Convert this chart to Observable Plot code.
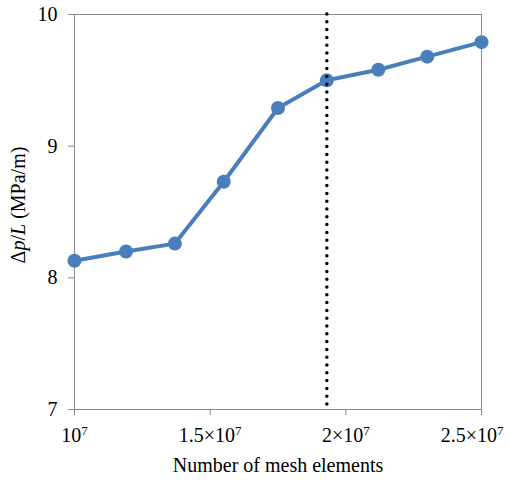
<!DOCTYPE html>
<html><head><meta charset="utf-8">
<script src="https://cdn.jsdelivr.net/npm/d3@7"></script>
<script src="https://cdn.jsdelivr.net/npm/@observablehq/plot@0.6"></script>
<style>
body{margin:0;background:#fff}
#chart svg text{font-family:'Liberation Serif','Times New Roman',serif;font-size:20px}
#chart svg text tspan.sup{font-size:13px}
</style>
</head><body><div id="chart"></div>
<script>
// Mesh-convergence study: pressure gradient vs number of mesh elements
const meshElements = [1.0e7, 1.19e7, 1.37e7, 1.55e7, 1.75e7, 1.93e7, 2.12e7, 2.30e7, 2.50e7];
const pressureGradient = [8.13, 8.20, 8.26, 8.73, 9.29, 9.50, 9.58, 9.68, 9.79];
const selectedMesh = 1.93e7;
const xTicks = [1e7, 1.5e7, 2e7, 2.5e7];
const xTickBases = ["10", "1.5×10", "2×10", "2.5×10"];
const xTickExponent = "7";
const yTicks = [7, 8, 9, 10];
const yTickLabels = ["7", "8", "9", "10"];

const data = meshElements.map((n, i) => ({n, dp: pressureGradient[i]}));
const blue = "#4a7ebb";
const gray = "#8a8a8a";
const serif = "'Liberation Serif', 'Times New Roman', serif";

const chart = Plot.plot({
  width: 510,
  height: 480,
  marginLeft: 74,
  marginRight: 29,
  marginTop: 14,
  marginBottom: 71,
  style: {fontFamily: serif, fontSize: "20px", color: "#000", background: "#fff"},
  x: {domain: [1e7, 2.5e7]},
  y: {domain: [7, 10]},
  marks: [
    Plot.frame({stroke: gray}),
    Plot.axisX({ticks: xTicks, tickFormat: d => xTickBases[xTicks.indexOf(d)], tickSize: 6, tickPadding: 12, stroke: gray, label: null, fill: "#000", fontSize: 20, fontFamily: serif}),
    Plot.axisY({ticks: yTicks, tickFormat: d => yTickLabels[yTicks.indexOf(d)], tickSize: 6, tickPadding: 11, stroke: gray, label: null, fill: "#000", fontSize: 20, fontFamily: serif}),
    Plot.line(data, {x: "n", y: "dp", stroke: blue, strokeWidth: 4}),
    Plot.dot(data, {x: "n", y: "dp", r: 7, fill: blue}),
    Plot.ruleX([selectedMesh], {stroke: "#000", strokeWidth: 3.5, strokeDasharray: "0,7.8", strokeLinecap: "round"})
  ]
});

const svg = d3.select(chart);
// raise the exponent on the x tick labels; keep the last label inside the figure
const xLabels = svg.selectAll('g[aria-label="x-axis tick label"] text');
xLabels.each(function () {
  d3.select(this).append("tspan").attr("class", "sup").attr("dy", "-0.55em").text(xTickExponent);
});
d3.select(xLabels.nodes().at(-1)).attr("text-anchor", "end").attr("x", 22);
// x-axis title
svg.append("text")
  .attr("x", 278).attr("y", 472)
  .attr("text-anchor", "middle")
  .attr("fill", "#000")
  .text("Number of mesh elements");
// y-axis title with italic symbols
const yt = svg.append("text")
  .attr("transform", "translate(25,205) rotate(-90)")
  .attr("text-anchor", "middle")
  .attr("fill", "#000");
yt.append("tspan").text("Δ");
yt.append("tspan").attr("font-style", "italic").text("p");
yt.append("tspan").text("/");
yt.append("tspan").attr("font-style", "italic").text("L");
yt.append("tspan").text(" (MPa/m)");

document.getElementById("chart").append(chart);
</script>
</body></html>
